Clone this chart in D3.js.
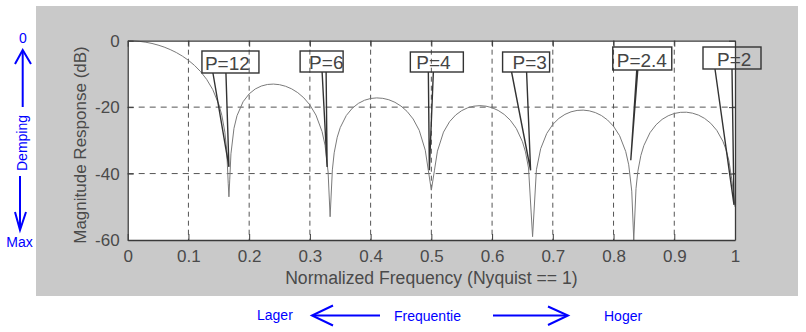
<!DOCTYPE html>
<html>
<head>
<meta charset="utf-8">
<script src="https://cdn.jsdelivr.net/npm/d3@7"></script>
<style>
  html, body { margin: 0; padding: 0; background: #ffffff; }
  svg { display: block; }
  text { font-family: "Liberation Sans", Arial, sans-serif; }
</style>
</head>
<body>
<svg id="chart" width="806" height="332"></svg>
<script>
// ---------------- data ----------------
const freq = [0,0.01,0.02,0.03,0.04,0.05,0.06,0.07,0.08,0.09,0.10,0.11,0.12,0.13,0.14,0.15,0.155,0.16,0.163,0.1655,0.1667,0.168,0.17,0.175,0.18,0.19,0.20,0.21,0.22,0.23,0.24,0.25,0.26,0.27,0.28,0.29,0.30,0.31,0.32,0.325,0.33,0.3333,0.337,0.34,0.345,0.35,0.36,0.37,0.38,0.39,0.40,0.41,0.42,0.43,0.44,0.45,0.46,0.47,0.48,0.49,0.495,0.50,0.505,0.51,0.52,0.53,0.54,0.55,0.56,0.57,0.58,0.59,0.60,0.61,0.62,0.63,0.64,0.65,0.655,0.66,0.6667,0.673,0.68,0.69,0.70,0.71,0.72,0.73,0.74,0.75,0.76,0.77,0.78,0.79,0.80,0.81,0.82,0.825,0.83,0.8333,0.837,0.84,0.845,0.85,0.86,0.87,0.88,0.89,0.90,0.91,0.92,0.93,0.94,0.95,0.96,0.97,0.98,0.985,0.99,0.995,1.0];
const magDb = [0,-0.05,-0.21,-0.47,-0.83,-1.32,-1.92,-2.67,-3.56,-4.63,-5.90,-7.44,-9.30,-11.64,-14.70,-19.15,-22.45,-27.54,-32.87,-42.9,-47,-41.9,-34.05,-26.37,-22.58,-18.37,-16.00,-14.54,-13.65,-13.18,-13.06,-13.24,-13.72,-14.50,-15.64,-17.20,-19.34,-22.40,-27.33,-31.48,-39.53,-53,-38.9,-33.76,-29.06,-26.15,-22.51,-20.29,-18.85,-17.92,-17.40,-17.22,-17.35,-17.78,-18.54,-19.68,-21.28,-23.56,-26.97,-32.98,-39.03,-45,-39.17,-33.25,-27.52,-24.38,-22.38,-21.05,-20.19,-19.71,-19.55,-19.71,-20.18,-20.99,-22.20,-23.94,-26.46,-30.40,-33.47,-38.32,-59,-38.86,-32.52,-27.93,-25.20,-23.39,-22.18,-21.41,-20.99,-20.90,-21.11,-21.64,-22.52,-23.85,-25.76,-28.61,-33.32,-37.37,-45.3,-60,-44.5,-39.35,-34.55,-31.54,-27.71,-25.31,-23.69,-22.60,-21.91,-21.57,-21.53,-21.81,-22.41,-23.40,-24.86,-26.99,-30.26,-32.67,-36.13,-42.1,-50];
const xTicks = [0,0.1,0.2,0.3,0.4,0.5,0.6,0.7,0.8,0.9,1];
const xTickLabels = ["0","0.1","0.2","0.3","0.4","0.5","0.6","0.7","0.8","0.9","1"];
const yTicks = [0,-20,-40,-60];
const yTickLabels = ["0","-20","-40","-60"];
const gridX = [0.1,0.2,0.3,0.4,0.5,0.6,0.7,0.8,0.9];
const gridY = [-20,-40];
const calloutLabels = ["P=12","P=6","P=4","P=3","P=2.4","P=2"];
const calloutFreqs = [0.1667,0.3333,0.5,0.6667,0.8333,1.0];
const calloutTipDb = [-38,-38,-39,-39,-36,-49.4];
const xLabel = "Normalized Frequency (Nyquist == 1)";
const yLabel = "Magnitude Response (dB)";

// ---------------- layout (pixel offsets, not data) ----------------
const callLayout = [
  {bx0:-27, bx1:30, by0:51, by1:73, t0:-16, t1:-3, tip:0,  tx:-24},
  {bx0:-30, bx1:13, by0:51, by1:72, t0:-8,  t1:-4, tip:-3, tx:-21},
  {bx0:-21, bx1:32, by0:52, by1:72, t0:-3,  t1:2,  tip:-2, tx:-15},
  {bx0:-30, bx1:17, by0:52, by1:72, t0:-21, t1:-6, tip:-2, tx:-20},
  {bx0:-21, bx1:38, by0:47, by1:70, t0:3,   t1:4,  tip:-3, tx:-17},
  {bx0:-32, bx1:26, by0:47, by1:69, t0:-20, t1:-3, tip:-1, tx:-18}
];

const svg = d3.select("#chart");
const L = 127.7, R = 735, T = 40.7, B = 240;
const x = d3.scaleLinear().domain([0, 1]).range([L, R]);
const y = d3.scaleLinear().domain([-60, 0]).range([B, T]);
const ink = "#4a4a4a";

// gray panel
svg.append("rect").attr("x", 36).attr("y", 6).attr("width", 762).attr("height", 290).attr("fill", "#c9c9c9");
// plot area
svg.append("rect").attr("x", L).attr("y", T).attr("width", R - L).attr("height", B - T).attr("fill", "#ffffff");

// grid
svg.append("g").selectAll("line").data(gridX).join("line")
  .attr("x1", d => x(d)).attr("x2", d => x(d)).attr("y1", T).attr("y2", B)
  .attr("stroke", "#555").attr("stroke-width", 1).attr("stroke-dasharray", "5,4");
svg.append("g").selectAll("line").data(gridY).join("line")
  .attr("x1", L).attr("x2", R).attr("y1", d => y(d)).attr("y2", d => y(d))
  .attr("stroke", "#555").attr("stroke-width", 1).attr("stroke-dasharray", "6,5");

// curve
svg.append("clipPath").attr("id", "clip").append("rect")
  .attr("x", L).attr("y", T - 1).attr("width", R - L + 1).attr("height", B - T + 1);
const pts = freq.map((f, i) => [f, magDb[i]]);
svg.append("path").datum(pts)
  .attr("clip-path", "url(#clip)")
  .attr("d", d3.line().x(d => x(d[0])).y(d => y(d[1])))
  .attr("fill", "none").attr("stroke", "#7a7a7a").attr("stroke-width", 1);

// axes
function styleAxis(g) {
  g.selectAll(".domain").attr("stroke", "#3a3a3a").attr("stroke-width", 1.3);
  g.selectAll(".tick line").attr("stroke", "#3a3a3a");
  g.selectAll("text").attr("fill", ink).attr("font-size", "17px")
    .attr("font-family", "'Liberation Sans', Arial, sans-serif");
}
svg.append("g").attr("transform", `translate(0,${B})`)
  .call(d3.axisBottom(x).tickValues(xTicks).tickFormat((d, i) => xTickLabels[i])
    .tickSizeInner(-6).tickSizeOuter(0).tickPadding(10))
  .call(styleAxis);
svg.append("g").attr("transform", `translate(${L},0)`)
  .call(d3.axisLeft(y).tickValues(yTicks).tickFormat((d, i) => yTickLabels[i])
    .tickSizeInner(-6).tickSizeOuter(0).tickPadding(8))
  .call(styleAxis);
svg.append("g").attr("transform", `translate(0,${T})`)
  .call(d3.axisTop(x).tickValues(xTicks).tickFormat("").tickSizeInner(-6).tickSizeOuter(0))
  .call(styleAxis);
svg.append("g").attr("transform", `translate(${R},0)`)
  .call(d3.axisRight(y).tickValues(yTicks).tickFormat("").tickSizeInner(-6).tickSizeOuter(0))
  .call(styleAxis);

// axis labels
svg.append("text").attr("x", x(0.5) + 0).attr("y", 284).attr("text-anchor", "middle")
  .attr("font-size", "17.6px").attr("fill", ink).text(xLabel);
svg.append("text").attr("transform", "translate(86,145) rotate(-90)").attr("text-anchor", "middle")
  .attr("font-size", "17px").attr("fill", ink).text(yLabel);

// callouts
const cg = svg.append("g");
calloutLabels.forEach((lab, i) => {
  const cx = x(calloutFreqs[i]);
  const c = callLayout[i];
  const tipY = y(calloutTipDb[i]);
  cg.append("rect").attr("x", cx + c.bx0).attr("y", c.by0)
    .attr("width", c.bx1 - c.bx0).attr("height", c.by1 - c.by0)
    .attr("fill", "none").attr("stroke", "#333").attr("stroke-width", 1.4);
  cg.append("path")
    .attr("d", `M${cx + c.t0},${c.by1} L${cx + c.tip},${tipY} L${cx + c.t1},${c.by1}`)
    .attr("fill", "none").attr("stroke", "#333").attr("stroke-width", 1.4);
  cg.append("text").attr("x", cx + c.tx).attr("y", c.by1 - 3)
    .attr("font-size", "19px").attr("fill", "#444").text(lab);
});

// blue annotations
const blue = "#0000ff";
const bg = svg.append("g").attr("stroke", blue).attr("stroke-width", 2).attr("fill", "none");
// up arrow
bg.append("line").attr("x1", 22.7).attr("y1", 51).attr("x2", 22.7).attr("y2", 107);
bg.append("path").attr("d", "M15,64 L22.7,50 L31,64");
// down arrow
bg.append("line").attr("x1", 20).attr("y1", 176).attr("x2", 20).attr("y2", 229);
bg.append("path").attr("d", "M15,212 L20,230 L26,212");
// left arrow
bg.append("line").attr("x1", 313).attr("y1", 315.5).attr("x2", 380).attr("y2", 315.5);
bg.append("path").attr("d", "M333,305.5 L312,315.5 L333,325.5");
// right arrow
bg.append("line").attr("x1", 493).attr("y1", 315.5).attr("x2", 567).attr("y2", 315.5);
bg.append("path").attr("d", "M548,306.5 L568,315.5 L548,325");

const bt = svg.append("g").attr("fill", blue).attr("font-size", "14px");
bt.append("text").attr("x", 23).attr("y", 43).attr("text-anchor", "middle").text("0");
bt.append("text").attr("transform", "translate(27,143) rotate(-90)").attr("text-anchor", "middle").text("Demping");
bt.append("text").attr("x", 19.5).attr("y", 247).attr("text-anchor", "middle").text("Max");
bt.append("text").attr("x", 257).attr("y", 320).text("Lager");
bt.append("text").attr("x", 394).attr("y", 320.5).text("Frequentie");
bt.append("text").attr("x", 604).attr("y", 320.5).text("Hoger");
</script>
</body>
</html>
